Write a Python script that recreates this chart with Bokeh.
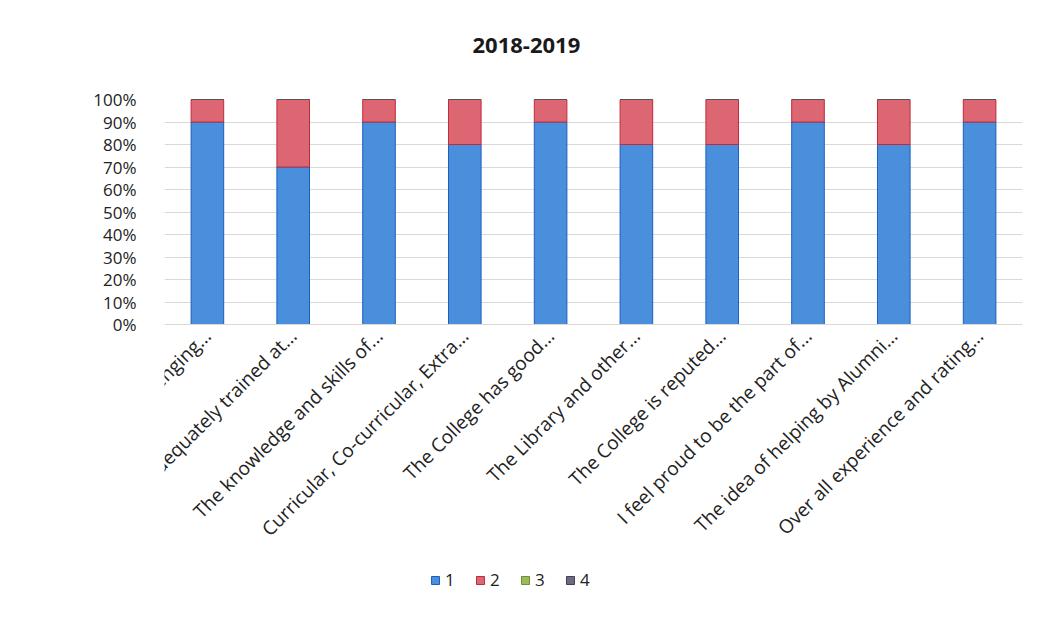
from bokeh.plotting import figure
from bokeh.models import Range1d, Legend, LegendItem, PrintfTickFormatter, FixedTicker, ColumnDataSource, Title
from bokeh.embed import file_html
from bokeh.resources import INLINE
import math

categories = [
    "I satisfy with the Challenging...",
    "I was adequately trained at...",
    "The knowledge and skills of...",
    "Curricular, Co-curricular, Extra...",
    "The College has good...",
    "The Library and other...",
    "The College is reputed...",
    "I feel proud to be the part of...",
    "The idea of helping by Alumni...",
    "Over all experience and rating...",
]
series_names = ["1", "2", "3", "4"]
s1 = [90, 70, 90, 80, 90, 80, 80, 90, 80, 90]
s2 = [10, 30, 10, 20, 10, 20, 20, 10, 20, 10]
s3 = [0, 0, 0, 0, 0, 0, 0, 0, 0, 0]
s4 = [0, 0, 0, 0, 0, 0, 0, 0, 0, 0]
y_ticks = [0, 10, 20, 30, 40, 50, 60, 70, 80, 90, 100]
chart_title = "2018-2019"

fills = ["#4a8fdc", "#dd6673", "#9bbb59", "#6e6a7e"]
lines = ["#1d5fbf", "#c22a3c", "#6f8f30", "#44405a"]

src = ColumnDataSource(dict(cat=categories, s1=s1, s2=s2, s3=s3, s4=s4))

FONT = "Open Sans"

# layout: bars occupy 225px for 0..100%, frame extended downward to hold labels and legend
bars_px = 225
frame_px = 500
y_start = 100 - 100 * frame_px / bars_px

p = figure(x_range=categories, y_range=Range1d(y_start, 100), frame_width=858, frame_height=frame_px,
           output_backend="svg", toolbar_location=None,
           min_border_left=164, min_border_right=7, min_border_top=99, min_border_bottom=0)

rs = p.vbar_stack(["s1", "s2", "s3", "s4"], x="cat", width=0.38, source=src,
                  fill_color=fills, line_color=lines, line_width=1)

# spacer between frame and title
p.add_layout(Title(text=" ", text_font_size="27px", text_color="white"), "above")
p.add_layout(Title(text=chart_title, align="left", offset=308, text_font=FONT,
                   text_font_size="22px", text_font_style="bold", text_color="#1a1a1a"), "above")

p.outline_line_color = None
p.xgrid.grid_line_color = None
p.ygrid.grid_line_color = "#d9d9d9"
p.ygrid.ticker = FixedTicker(ticks=y_ticks)

p.yaxis.ticker = FixedTicker(ticks=y_ticks)
p.yaxis.formatter = PrintfTickFormatter(format="%d%%")
p.yaxis.axis_line_color = None
p.yaxis.major_tick_line_color = None
p.yaxis.minor_tick_line_color = None
p.yaxis.major_label_standoff = 22
p.yaxis.major_label_text_font = FONT
p.yaxis.major_label_text_font_size = "17px"
p.yaxis.major_label_text_color = "#222222"

p.xaxis.fixed_location = 0
p.xaxis.axis_line_color = "#d9d9d9"
p.xaxis.major_tick_line_color = None
p.xaxis.minor_tick_line_color = None
p.xaxis.major_label_orientation = math.pi / 4
p.xaxis.major_label_standoff = 2
p.xaxis.major_label_text_font = FONT
p.xaxis.major_label_text_font_size = "19px"
p.xaxis.major_label_text_color = "#222222"

legend = Legend(items=[LegendItem(label=n, renderers=[r]) for n, r in zip(series_names, rs)],
                orientation="horizontal", location=(266, 8),
                label_text_font=FONT, label_text_font_size="17px", label_text_color="#222222",
                glyph_width=10, glyph_height=10, spacing=10, label_standoff=5,
                border_line_color=None, background_fill_alpha=0, margin=0, padding=2)
p.add_layout(legend, "center")

open("out.html", "w").write(file_html(p, INLINE))
